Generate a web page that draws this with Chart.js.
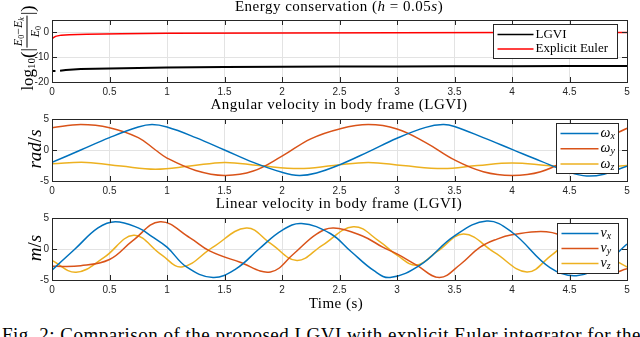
<!DOCTYPE html>
<html><head><meta charset="utf-8">
<script src="https://cdn.jsdelivr.net/npm/chart.js@4.4.1/dist/chart.umd.min.js"></script>
<style>
html,body{margin:0;padding:0;background:#fff;}
#wrap{position:relative;width:640px;height:337px;overflow:hidden;background:#fff;}
canvas{position:absolute;left:0;}
.t{position:absolute;white-space:nowrap;font-family:"Liberation Serif","Times New Roman",serif;color:#000;font-size:15px;line-height:15px;letter-spacing:0.5px;transform:translateX(-50%);}
.yl{position:absolute;white-space:nowrap;font-family:"Liberation Serif",serif;font-size:17px;line-height:17px;color:#000;transform:translate(-50%,-50%) rotate(-90deg);display:flex;align-items:center;}
.sub{font-size:11px;position:relative;top:4px;}
.frac{display:inline-flex;flex-direction:column;align-items:center;font-size:12px;line-height:12px;margin:0 1px;}
.num{border-bottom:0.8px solid #000;padding:0 1px 1px 1px;}
.den{padding-top:1px;}
.s2{font-size:8px;position:relative;top:2px;}
.cap{position:absolute;left:2px;top:325px;white-space:nowrap;font-family:"Liberation Serif",serif;font-size:19px;line-height:19px;color:#000;letter-spacing:0.5px;}
</style></head>
<body>
<div id="wrap">
  <canvas id="c1" width="640" height="87" style="top:11px"></canvas>
  <canvas id="c2" width="640" height="87" style="top:110px"></canvas>
  <canvas id="c3" width="640" height="87" style="top:209px"></canvas>
  <div class="t" style="left:339px;top:-1px">Energy conservation (<i>h</i> = 0.05<i>s</i>)</div>
  <div class="t" style="left:339px;top:97px">Angular velocity in body frame (LGVI)</div>
  <div class="t" style="left:339px;top:196px">Linear velocity in body frame (LGVI)</div>
  <div class="t" style="left:336px;top:296px">Time (s)</div>
  <div class="yl" style="left:27px;top:48px">log<span class="sub">10</span><span style="font-size:19px">(</span>|<span class="frac"><span class="num"><i>E</i><span class="s2">0</span>−<i>E</i><span class="s2"><i>k</i></span></span><span class="den"><i>E</i><span class="s2">0</span></span></span>|<span style="font-size:19px">)</span></div>
  <div class="yl" style="left:34px;top:149px;font-size:19px"><i>rad</i>/<i>s</i></div>
  <div class="yl" style="left:34px;top:248px;font-size:19px"><i>m</i>/<i>s</i></div>
  <div class="cap">Fig. 2: Comparison of the proposed LGVI with explicit Euler integrator for the</div>
</div>
<script>
// ---- data ----
const timeTicks = [0, 0.5, 1, 1.5, 2, 2.5, 3, 3.5, 4, 4.5, 5];
const energyTicks = [-20, -10, 0];
const velTicks = [-5, 0, 5];

const lgviT = [0, 0.03, 0.05, 0.07, 0.12, 0.25, 0.5, 0.75, 1.0, 1.5, 2.0, 2.5, 3.0, 3.5, 4.0, 4.5, 5.0];
const lgviE = [-15.6, -15.6, null, -15.5, -15.2, -14.8, -14.6, -14.4, -14.2, -14.0, -13.9, -13.7, -13.7, -13.6, -13.6, -13.5, -13.5];
const eulerT = [0, 0.01, 0.03, 0.08, 0.15, 0.3, 0.6, 1.0, 2.0, 3.0, 4.0, 5.0];
const eulerE = [-2.7, -2.2, -1.6, -1.1, -0.9, -0.7, -0.5, -0.35, -0.2, -0.1, -0.05, 0.0];

const wxT = [0, 0.25, 0.5, 0.75, 0.87, 1.0, 1.25, 1.5, 1.75, 2.0, 2.15, 2.3, 2.5, 2.75, 3.0, 3.25, 3.4, 3.5, 3.75, 4.0, 4.25, 4.5, 4.65, 4.8, 5.0];
const wxV = [-2.0, 0.0, 2.0, 3.7, 4.1, 3.7, 2.0, 0.0, -2.0, -3.6, -4.1, -3.7, -2.4, -0.3, 1.9, 3.65, 4.1, 3.8, 2.0, 0.1, -1.8, -3.6, -4.2, -3.9, -2.6];
const wyT = [0, 0.25, 0.5, 0.75, 0.9, 1.0, 1.25, 1.5, 1.75, 2.0, 2.25, 2.5, 2.75, 3.0, 3.25, 3.5, 3.75, 4.0, 4.25, 4.5, 4.75, 5.0];
const wyV = [3.6, 4.1, 3.6, 2.0, 0.0, -1.3, -3.3, -4.1, -3.4, -1.0, 1.8, 3.4, 4.1, 3.4, 1.2, -1.6, -3.5, -4.1, -3.5, -1.4, 1.3, 3.5];
const wzT = [0, 0.3, 0.6, 0.9, 1.2, 1.5, 1.8, 2.15, 2.45, 2.75, 3.05, 3.4, 3.7, 4.0, 4.3, 4.65, 5.0];
const wzV = [-2.2, -2.0, -2.6, -3.1, -2.6, -2.0, -2.5, -3.0, -2.5, -2.0, -2.5, -3.0, -2.5, -2.1, -2.5, -3.0, -2.5];

const vxT = [0, 0.2, 0.4, 0.55, 0.75, 0.87, 1.0, 1.17, 1.4, 1.6, 1.8, 2.0, 2.17, 2.42, 2.6, 2.8, 2.94, 3.2, 3.5, 3.78, 4.0, 4.33, 4.56, 4.8, 5.0];
const vxV = [-3.4, 0.0, 3.4, 4.4, 3.4, 2.0, 0.3, -2.9, -4.6, -3.2, 0.0, 3.0, 4.1, 2.5, -0.4, -3.5, -4.6, -2.6, 2.1, 4.5, 2.7, -3.0, -4.3, -2.4, 0.8];
const vyT = [0, 0.25, 0.5, 0.7, 0.94, 1.2, 1.37, 1.63, 1.9, 2.1, 2.3, 2.45, 2.7, 2.88, 3.0, 3.17, 3.37, 3.55, 3.72, 3.87, 4.0, 4.3, 4.5, 4.65, 4.85, 5.0];
const vyV = [-2.8, -2.7, -1.7, 1.3, 4.4, 1.8, -0.3, -2.1, -3.7, -0.8, 2.4, 3.4, 2.1, 0.25, -0.8, -2.6, -4.6, -2.5, 0.25, 1.6, 2.3, 2.8, 1.5, -1.2, -3.8, -3.2];
const vzT = [0, 0.21, 0.45, 0.71, 0.95, 1.13, 1.4, 1.69, 1.9, 2.13, 2.35, 2.62, 2.85, 3.0, 3.17, 3.35, 3.58, 3.85, 4.13, 4.35, 4.6, 4.8, 4.9, 5.0];
const vzV = [-1.85, -3.75, -1.4, 2.2, -0.9, -2.9, 0.3, 3.4, 0.9, -1.85, 0.6, 3.6, 1.2, -1.0, -2.6, -0.4, 2.4, -0.6, -3.7, -0.9, 2.4, -0.4, -1.85, -2.9];

// ---- helpers ----
const pts = (t, v) => t.map((x, i) => ({x, y: v[i]}));
const TICK_COLOR = '#262626';

const matlabPlugin = {
  id: 'matlab',
  afterDatasetsDraw(chart, args, o) {
    const {ctx, chartArea: a, scales: {x, y}} = chart;
    ctx.save();
    ctx.strokeStyle = TICK_COLOR; ctx.lineWidth = 1;
    ctx.beginPath();
    x.ticks.forEach(t => {
      const px = Math.round(x.getPixelForValue(t.value)) + 0.5;
      ctx.moveTo(px, a.bottom); ctx.lineTo(px, a.bottom - 5);
      ctx.moveTo(px, a.top); ctx.lineTo(px, a.top + 5);
    });
    y.ticks.forEach(t => {
      const py = Math.round(y.getPixelForValue(t.value)) + 0.5;
      ctx.moveTo(a.left, py); ctx.lineTo(a.left + 5, py);
      ctx.moveTo(a.right, py); ctx.lineTo(a.right - 5, py);
    });
    ctx.stroke();
    ctx.strokeRect(Math.round(a.left) + 0.5, Math.round(a.top) + 0.5, Math.round(a.right - a.left), Math.round(a.bottom - a.top));
    ctx.restore();
  },
  afterDraw(chart, args, o) {
    if (!o || !o.width) return;
    const {ctx, chartArea: a} = chart;
    const bx = Math.round(a.right - o.right - o.width) + 0.5;
    const by = Math.round(a.top + o.top) + 0.5;
    ctx.save();
    ctx.fillStyle = '#fff';
    ctx.fillRect(bx, by, o.width, o.height);
    ctx.strokeStyle = TICK_COLOR; ctx.lineWidth = 1;
    ctx.strokeRect(bx, by, o.width, o.height);
    chart.data.datasets.forEach((ds, i) => {
      const ry = by + o.row0 + i * o.rowH;
      ctx.strokeStyle = ds.borderColor; ctx.lineWidth = 1.5;
      ctx.beginPath(); ctx.moveTo(bx + 4, ry); ctx.lineTo(bx + 4 + o.lineLen, ry); ctx.stroke();
      const parts = ds.label.split('_');
      let tx = bx + 6 + o.lineLen;
      ctx.fillStyle = '#000';
      ctx.textBaseline = 'middle';
      ctx.font = (o.italic ? 'italic ' : '') + o.fontSize + 'px "Liberation Serif", serif';
      ctx.fillText(parts[0], tx, ry);
      if (parts[1]) {
        tx += ctx.measureText(parts[0]).width;
        ctx.font = 'italic ' + Math.round(o.fontSize * 0.7) + 'px "Liberation Serif", serif';
        ctx.fillText(parts[1], tx, ry + 3);
      }
    });
    ctx.restore();
  }
};

function makeChart(id, datasets, yMin, yMax, yTicks, legend, smooth) {
  return new Chart(document.getElementById(id), {
    type: 'line',
    data: {datasets},
    plugins: [matlabPlugin],
    options: {
      responsive: false, animation: false, events: [],
      layout: {padding: {left: 0, right: 13, top: 8, bottom: 0}},
      elements: {point: {radius: 0}, line: {borderWidth: 1.5, tension: smooth ? 0.4 : 0}},
      plugins: {legend: {display: false}, tooltip: {enabled: false}, matlab: legend},
      scales: {
        x: {
          type: 'linear', min: 0, max: 5,
          afterBuildTicks: s => { s.ticks = timeTicks.map(v => ({value: v})); },
          afterFit: s => { s.height = 16; },
          grid: {color: '#e3e3e3', drawTicks: false, lineWidth: 1},
          border: {display: false},
          ticks: {padding: 4, color: TICK_COLOR, font: {family: '"Liberation Sans", Arial, sans-serif', size: 10}, maxRotation: 0, autoSkip: false,
                  callback: v => String(v)}
        },
        y: {
          type: 'linear', min: yMin, max: yMax,
          afterBuildTicks: s => { s.ticks = yTicks.map(v => ({value: v})); },
          afterFit: s => { s.width = 52; },
          grid: {color: '#e3e3e3', drawTicks: false, lineWidth: 1},
          border: {display: false},
          ticks: {padding: 3, color: TICK_COLOR, font: {family: '"Liberation Sans", Arial, sans-serif', size: 10},
                  callback: v => String(v)}
        }
      }
    }
  });
}

makeChart('c1', [
  {label: 'LGVI', data: pts(lgviT, lgviE), borderColor: '#000000', borderWidth: 2, spanGaps: false},
  {label: 'Explicit Euler', data: pts(eulerT, eulerE), borderColor: '#ff0000', borderWidth: 1.5}
], -20, 5, energyTicks, {right: 10, top: 4, width: 124, height: 34, row0: 10, rowH: 14.5, lineLen: 36, fontSize: 13, italic: false}, false);

makeChart('c2', [
  {label: 'ω_x', data: pts(wxT, wxV), borderColor: '#0072BD'},
  {label: 'ω_y', data: pts(wyT, wyV), borderColor: '#D95319'},
  {label: 'ω_z', data: pts(wzT, wzV), borderColor: '#EDB120'}
], -5, 5, velTicks, {right: 9, top: 4, width: 62, height: 50, row0: 10, rowH: 15.2, lineLen: 38, fontSize: 14, italic: true}, true);

makeChart('c3', [
  {label: 'v_x', data: pts(vxT, vxV), borderColor: '#0072BD'},
  {label: 'v_y', data: pts(vyT, vyV), borderColor: '#D95319'},
  {label: 'v_z', data: pts(vzT, vzV), borderColor: '#EDB120'}
], -5, 5, velTicks, {right: 9, top: 5, width: 61, height: 50, row0: 10, rowH: 15, lineLen: 37, fontSize: 14, italic: true}, true);
</script>
</body></html>
